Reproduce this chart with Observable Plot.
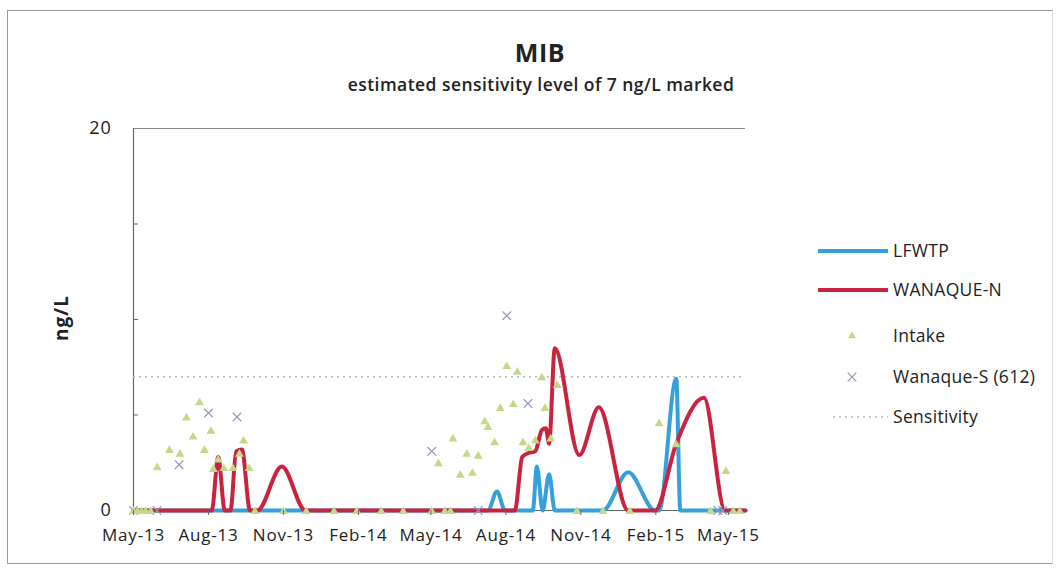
<!DOCTYPE html>
<html>
<head>
<meta charset="utf-8">
<script src="https://cdn.jsdelivr.net/npm/d3@7"></script>
<script src="https://cdn.jsdelivr.net/npm/@observablehq/plot@0.6"></script>
<style>
  html, body { margin: 0; padding: 0; background: #fff; }
  body { width: 1059px; height: 569px; position: relative; overflow: hidden; font-family: "Open Sans", sans-serif; }
  #frame { position: absolute; left: 7px; top: 10px; width: 1044px; height: 552px; border: 1px solid #9a9a9a; border-right-color: #d8d8d8; }
  #chart { position: absolute; left: 0; top: 0; }
  #title { position: absolute; left: 0; width: 1080px; top: 35px; text-align: center; font-weight: 700; font-size: 25px; letter-spacing: 0.6px; color: #222; }
  #subtitle { position: absolute; left: 0; width: 1082px; top: 72px; text-align: center; font-weight: 600; font-size: 17.5px; letter-spacing: 0.45px; color: #222; }
  #ylabel { position: absolute; left: 61px; top: 318px; transform: translate(-50%, -50%) rotate(-90deg); font-weight: 700; font-size: 19px; letter-spacing: 1px; color: #222; white-space: nowrap; }
  #legend { position: absolute; left: 0; top: 0; }
  .lg { position: absolute; font-size: 17.5px; letter-spacing: 0.3px; color: #222; white-space: nowrap; }
  #chart svg text { letter-spacing: 0.8px; }
</style>
</head>
<body>
<div id="frame"></div>
<div id="chart"></div>
<div id="title"></div>
<div id="subtitle"></div>
<div id="ylabel"></div>
<div id="legend"></div>
<script>
// ---- data ----
const titleText = "MIB";
const subtitleText = "estimated sensitivity level of 7 ng/L marked";
const yLabel = "ng/L";
const seriesNames = ["LFWTP", "WANAQUE-N", "Intake", "Wanaque-S (612)", "Sensitivity"];
const sensitivity = 7;
const xStart = "2013-05-01", xEnd = "2015-05-22";
const xTickDates = ["2013-05-01","2013-08-01","2013-11-01","2014-02-01","2014-05-01","2014-08-01","2014-11-01","2015-02-01","2015-05-01"];
const yLabelTicks = [0, 20];
const yMinorTicks = [5, 10, 15];

const lfwtpDates = ["2013-05-01","2013-09-30","2014-03-01","2014-07-10","2014-07-21","2014-07-31","2014-09-03","2014-09-08","2014-09-15","2014-09-23","2014-09-30","2014-11-28","2014-12-29","2015-01-31","2015-02-05","2015-02-26","2015-03-03","2015-05-22"];
const lfwtpValues = [0,0,0,0,1.0,0,0,2.3,0,1.9,0,0,2.0,0,0,6.9,0,0];

const wanaqueNDates = ["2013-05-01","2013-08-05","2013-08-13","2013-08-21","2013-08-28","2013-09-04","2013-09-11","2013-09-21","2013-09-30","2013-10-30","2013-11-28","2014-01-03","2014-03-01","2014-05-03","2014-07-25","2014-08-12","2014-08-21","2014-08-28","2014-09-06","2014-09-14","2014-09-19","2014-09-23","2014-09-30","2014-10-30","2014-11-23","2014-12-29","2015-01-31","2015-02-26","2015-04-01","2015-04-27","2015-05-22"];
const wanaqueNValues = [0,0,2.8,0,0,3.1,3.2,0,0,2.3,0,0,0,0,0,0,2.8,3.0,3.1,4.2,4.3,3.5,8.5,2.9,5.4,0,0,3.5,5.9,0,0];

const intakeDates = ["2013-05-01","2013-05-06","2013-05-11","2013-05-16","2013-05-22","2013-05-30","2013-06-14","2013-06-27","2013-07-05","2013-07-13","2013-07-21","2013-07-27","2013-08-04","2013-08-07","2013-08-13","2013-08-20","2013-08-31","2013-09-08","2013-09-13","2013-09-20","2013-09-27","2013-11-01","2013-11-29","2014-01-02","2014-01-30","2014-03-01","2014-03-28","2014-05-02","2014-05-10","2014-05-18","2014-05-25","2014-05-28","2014-06-06","2014-06-14","2014-06-21","2014-06-28","2014-07-06","2014-07-10","2014-07-18","2014-07-25","2014-08-02","2014-08-10","2014-08-15","2014-08-22","2014-08-29","2014-09-06","2014-09-14","2014-09-18","2014-09-25","2014-10-03","2014-10-27","2014-11-28","2014-12-31","2015-02-05","2015-02-26","2015-04-09","2015-04-28","2015-05-07","2015-05-15"];
const intakeValues = [0,0,0,0,0,2.3,3.2,3.0,4.9,3.9,5.7,3.2,4.2,2.2,2.7,2.25,2.25,3.0,3.7,2.25,0,0,0,0,0,0,0,0,2.5,0,0,3.8,1.9,3.0,2.0,2.9,4.7,4.4,3.6,5.4,7.6,5.6,7.3,3.6,3.3,3.7,7.0,5.4,3.8,6.6,0,0,0,4.6,3.5,0,2.1,0,0];

const wanaqueSDates = ["2013-05-01","2013-05-30","2013-06-26","2013-08-01","2013-09-05","2014-05-02","2014-06-28","2014-08-02","2014-08-28","2015-04-18","2015-04-24"];
const wanaqueSValues = [0,0,2.4,5.1,4.9,3.1,0,10.2,5.6,0,0];

// ---- colours ----
const cBlue = "#35a0dc", cRed = "#c8233f", cGreen = "#c3d98a", cCross = "#8d97b8", cSens = "#a9b9cc";

const toRows = (ds, vs) => ds.map((d, i) => ({date: new Date(d), value: vs[i]}));
const lfwtp = toRows(lfwtpDates, lfwtpValues);
const wanaqueN = toRows(wanaqueNDates, wanaqueNValues);
const intake = toRows(intakeDates, intakeValues);
const wanaqueS = toRows(wanaqueSDates, wanaqueSValues);
const x0 = new Date(xStart), x1 = new Date(xEnd);

const chart = Plot.plot({
  width: 1059, height: 569,
  marginLeft: 133, marginRight: 314, marginTop: 128, marginBottom: 59,
  style: {fontFamily: "'Open Sans', sans-serif", color: "#222", background: "transparent"},
  x: {type: "utc", domain: [x0, x1]},
  y: {domain: [0, 20]},
  marks: [
    Plot.ruleY([20], {stroke: "#8a8a8a", strokeWidth: 1.2}),
    Plot.ruleY([0], {stroke: "#666", strokeWidth: 1.2}),
    Plot.ruleX([x0], {stroke: "#666", strokeWidth: 1.2}),
    Plot.ruleY([sensitivity], {stroke: cSens, strokeWidth: 1.6, strokeDasharray: "2,4"}),
    Plot.line(lfwtp, {x: "date", y: "value", stroke: cBlue, strokeWidth: 4, curve: "monotone-x"}),
    Plot.line(wanaqueN, {x: "date", y: "value", stroke: cRed, strokeWidth: 4, curve: "monotone-x"}),
    Plot.dot(wanaqueS, {x: "date", y: "value", symbol: "times", r: 4, stroke: cCross, strokeWidth: 1.2}),
    Plot.dot(intake, {x: "date", y: "value", symbol: "triangle", r: 3.3, fill: cGreen, stroke: null, dy: 1}),
    Plot.axisX({ticks: xTickDates.map(d => new Date(d)), tickFormat: d3.utcFormat("%b-%y"), tickSize: 5, tickPadding: 13, fontSize: 17, label: null, stroke: "#666"}),
    Plot.axisY({ticks: yLabelTicks, tickSize: 0, tickPadding: 22, fontSize: 18, label: null}),
    Plot.axisY({ticks: yMinorTicks, tickSize: -5, tickFormat: () => "", label: null, stroke: "#666"})
  ]
});
document.getElementById("chart").appendChild(chart);

document.getElementById("title").textContent = titleText;
document.getElementById("subtitle").textContent = subtitleText;
document.getElementById("ylabel").textContent = yLabel;

// ---- legend ----
const legend = document.getElementById("legend");
const legendTop = [251, 290, 336, 377, 417];
const kinds = ["line", "line", "tri", "cross", "dot"];
const kindColors = [cBlue, cRed, cGreen, cCross, cSens];
seriesNames.forEach((name, i) => {
  const y = legendTop[i];
  const sw = document.createElementNS("http://www.w3.org/2000/svg", "svg");
  sw.setAttribute("width", 80); sw.setAttribute("height", 20);
  sw.style.position = "absolute"; sw.style.left = "812px"; sw.style.top = (y - 10) + "px";
  const k = kinds[i];
  let el;
  if (k === "line") {
    el = document.createElementNS(sw.namespaceURI, "line");
    el.setAttribute("x1", 6); el.setAttribute("x2", 76); el.setAttribute("y1", 10); el.setAttribute("y2", 10);
    el.setAttribute("stroke", kindColors[i]); el.setAttribute("stroke-width", 4);
  } else if (k === "dot") {
    el = document.createElementNS(sw.namespaceURI, "line");
    el.setAttribute("x1", 21); el.setAttribute("x2", 76); el.setAttribute("y1", 10); el.setAttribute("y2", 10);
    el.setAttribute("stroke", kindColors[i]); el.setAttribute("stroke-width", 1.6); el.setAttribute("stroke-dasharray", "2,4");
  } else if (k === "tri") {
    el = document.createElementNS(sw.namespaceURI, "path");
    el.setAttribute("d", d3.symbol(d3.symbolTriangle, 28)());
    el.setAttribute("transform", "translate(40,10)");
    el.setAttribute("fill", kindColors[i]);
  } else {
    el = document.createElementNS(sw.namespaceURI, "path");
    el.setAttribute("d", d3.symbol(d3.symbolTimes, 50)());
    el.setAttribute("transform", "translate(40,10)");
    el.setAttribute("stroke", kindColors[i]); el.setAttribute("fill", "none"); el.setAttribute("stroke-width", 1.2);
  }
  sw.appendChild(el);
  legend.appendChild(sw);
  const t = document.createElement("div");
  t.className = "lg"; t.textContent = name;
  t.style.left = "893px"; t.style.top = (y - 13) + "px";
  legend.appendChild(t);
});
</script>
</body>
</html>
